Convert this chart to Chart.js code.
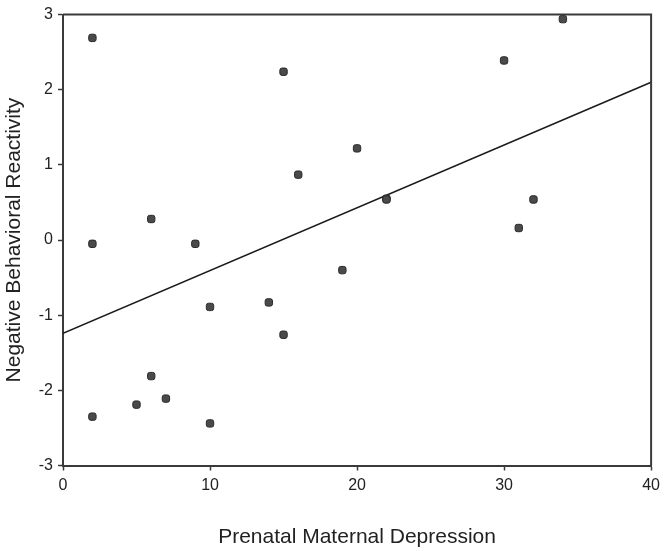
<!DOCTYPE html>
<html>
<head>
<meta charset="utf-8">
<script src="https://cdn.jsdelivr.net/npm/chart.js@4/dist/chart.umd.min.js"></script>
<style>
    html, body { margin: 0; padding: 0; background: #fff; }
    #wrap { width: 665px; height: 551px; }
</style>
</head>
<body>
<div id="wrap"><canvas id="scatterChart"></canvas></div>
<script>
// 散点数据：产前母亲抑郁 vs 负面行为反应
const depression = [2, 2, 2, 5, 6, 6, 7, 9, 10, 10, 14, 15, 15, 16, 19, 20, 22, 22, 30, 31, 32, 34];
const reactivity = [2.69, -0.05, -2.35, -2.19, 0.28, -1.81, -2.11, -0.05, -0.89, -2.44, -0.83, 2.24, -1.26, 0.87, -0.40, 1.22, 0.55, 0.54, 2.39, 0.16, 0.54, 2.94];

// 回归线两端
const fitX = [0, 40];
const fitY = [-1.24, 2.10];

const xTicks = [0, 10, 20, 30, 40];
const yTicks = [-3, -2, -1, 0, 1, 2, 3];

const FONT = "'Liberation Sans', Arial, sans-serif";
const AXIS_COLOR = '#3a3a3a';

// 绘制上边和右边的框线
const frameBox = {
    id: 'frameBox',
    afterDraw(chart) {
        const { ctx, chartArea } = chart;
        ctx.save();
        ctx.strokeStyle = AXIS_COLOR;
        ctx.lineWidth = 2;
        ctx.beginPath();
        ctx.moveTo(chartArea.left, chartArea.top);
        ctx.lineTo(chartArea.right, chartArea.top);
        ctx.lineTo(chartArea.right, chartArea.bottom);
        ctx.stroke();
        ctx.restore();
    }
};

const ctx = document.getElementById('scatterChart').getContext('2d');
new Chart(ctx, {
    type: 'scatter',
    data: {
        datasets: [{
            label: 'Subjects',
            data: depression.map((x, i) => ({ x, y: reactivity[i] })),
            pointStyle: 'rectRounded',
            pointRadius: 4.3,
            pointBorderWidth: 1,
            backgroundColor: '#4a4a4a',
            borderColor: '#2a2a2a'
        }, {
            type: 'line',
            label: 'Fit',
            data: fitX.map((x, i) => ({ x, y: fitY[i] })),
            borderColor: '#1a1a1a',
            borderWidth: 1.5,
            pointRadius: 0,
            fill: false,
            tension: 0
        }]
    },
    options: {
        responsive: true,
        maintainAspectRatio: false,
        animation: false,
        devicePixelRatio: 1,
        layout: {
            padding: { top: 12, right: 13, bottom: 0, left: 0 }
        },
        plugins: {
            legend: { display: false },
            tooltip: { enabled: false }
        },
        scales: {
            x: {
                type: 'linear',
                min: 0,
                max: 40,
                afterBuildTicks(scale) {
                    scale.ticks = xTicks.map(v => ({ value: v }));
                },
                afterFit(scale) {
                    scale.height = 85.5;
                },
                grid: {
                    drawOnChartArea: false,
                    tickLength: 5,
                    tickWidth: 1.5,
                    tickColor: AXIS_COLOR
                },
                border: { color: AXIS_COLOR, width: 2 },
                ticks: {
                    padding: 5,
                    color: '#222',
                    font: { family: FONT, size: 16 }
                },
                title: {
                    display: true,
                    text: 'Prenatal Maternal Depression',
                    color: '#222',
                    font: { family: FONT, size: 21 },
                    padding: { top: 0, bottom: 1 }
                }
            },
            y: {
                type: 'linear',
                min: -3,
                max: 3,
                afterBuildTicks(scale) {
                    scale.ticks = yTicks.map(v => ({ value: v }));
                },
                afterFit(scale) {
                    scale.width = 63;
                },
                grid: {
                    drawOnChartArea: false,
                    tickLength: 5,
                    tickWidth: 1.5,
                    tickColor: AXIS_COLOR
                },
                border: { color: AXIS_COLOR, width: 2 },
                ticks: {
                    padding: 5,
                    color: '#222',
                    font: { family: FONT, size: 16 }
                },
                title: {
                    display: true,
                    text: 'Negative Behavioral Reactivity',
                    color: '#222',
                    font: { family: FONT, size: 21 },
                    padding: { top: 2, bottom: 0 }
                }
            }
        }
    },
    plugins: [frameBox]
});
</script>
</body>
</html>
